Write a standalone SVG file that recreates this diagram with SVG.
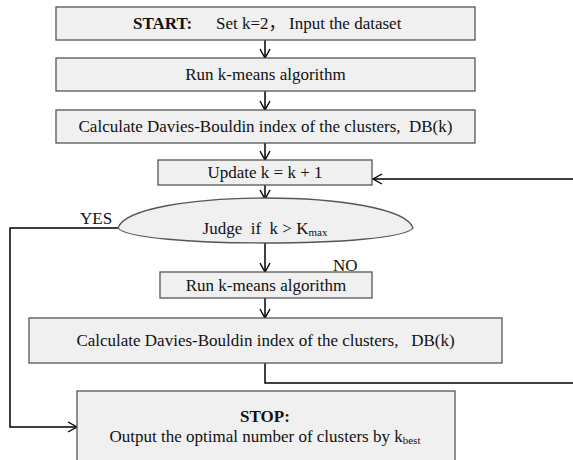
<svg xmlns="http://www.w3.org/2000/svg" width="573" height="460" viewBox="0 0 573 460">
  <defs>
    <marker id="arr" markerWidth="12" markerHeight="12" refX="10" refY="6" orient="auto" markerUnits="userSpaceOnUse">
      <path d="M1,1 L10,6 L1,11" fill="none" stroke="#000" stroke-width="1.4"/>
    </marker>
    <style>
      .box { fill: #f0f0f0; stroke: #555; stroke-width: 1.3; }
      .t { font-family: "Liberation Serif", "Times New Roman", "Noto Sans CJK SC", serif; font-size: 17px; fill: #111; white-space: pre; }
      .c { text-anchor: middle; }
      .b { font-weight: bold; }
      .sub { font-size: 11px; }
      .edge { fill: none; stroke: #000; stroke-width: 1.5; }
    </style>
  </defs>
  <rect width="573" height="460" fill="#fff"/>

  <g id="connectors">
    <line class="edge" x1="265" y1="40" x2="265" y2="58" marker-end="url(#arr)"/>
    <line class="edge" x1="265" y1="91" x2="265" y2="110" marker-end="url(#arr)"/>
    <line class="edge" x1="265" y1="143" x2="265" y2="160" marker-end="url(#arr)"/>
    <line class="edge" x1="265" y1="185" x2="265" y2="199" marker-end="url(#arr)"/>
    <line class="edge" x1="265" y1="243" x2="265" y2="272" marker-end="url(#arr)"/>
    <line class="edge" x1="265" y1="298" x2="265" y2="318" marker-end="url(#arr)"/>
    <path class="edge" d="M573,179 L373,179" marker-end="url(#arr)"/>
    <path class="edge" d="M265,363 L265,383 L573,383"/>
    <path class="edge" d="M118,228 L10,228 L10,427 L77,427" marker-end="url(#arr)"/>
  </g>

  <g id="start">
    <rect class="box" x="56" y="7" width="419" height="33"/>
    <text class="t b" x="133" y="29">START:</text>
    <text class="t" x="216" y="29">Set k=2，</text>
    <text class="t" x="289" y="29">Input the dataset</text>
  </g>

  <g id="kmeans1">
    <rect class="box" x="56" y="58" width="419" height="33"/>
    <text class="t c" x="265.5" y="80">Run k-means algorithm</text>
  </g>

  <g id="dbindex1">
    <rect class="box" x="56" y="110" width="419" height="33"/>
    <text class="t c" x="265.5" y="132">Calculate Davies-Bouldin index of the clusters,  DB(k)</text>
  </g>

  <g id="update">
    <rect class="box" x="158" y="160" width="214" height="25"/>
    <text class="t c" x="265" y="178">Update k = k + 1</text>
  </g>

  <g id="judge">
    <path class="box" d="M118,228 C132,188 399,188 413,228 C399,248 132,248 118,228 Z"/>
    <text class="t c" x="265" y="234">Judge  if  k &gt; K<tspan class="sub" dy="2">max</tspan></text>
    <text class="t" x="80" y="224">YES</text>
    <text class="t" x="333" y="271">NO</text>
  </g>

  <g id="kmeans2">
    <rect class="box" x="160" y="272" width="212" height="26"/>
    <text class="t c" x="266" y="291">Run k-means algorithm</text>
  </g>

  <g id="dbindex2">
    <rect class="box" x="29" y="318" width="473" height="45"/>
    <text class="t c" x="265.5" y="346">Calculate Davies-Bouldin index of the clusters,   DB(k)</text>
  </g>

  <g id="stop">
    <rect class="box" x="77" y="391" width="378" height="75"/>
    <text class="t c b" x="265" y="422">STOP:</text>
    <text class="t c" x="265" y="442">Output the optimal number of clusters by k<tspan class="sub" dy="2">best</tspan></text>
  </g>
</svg>
